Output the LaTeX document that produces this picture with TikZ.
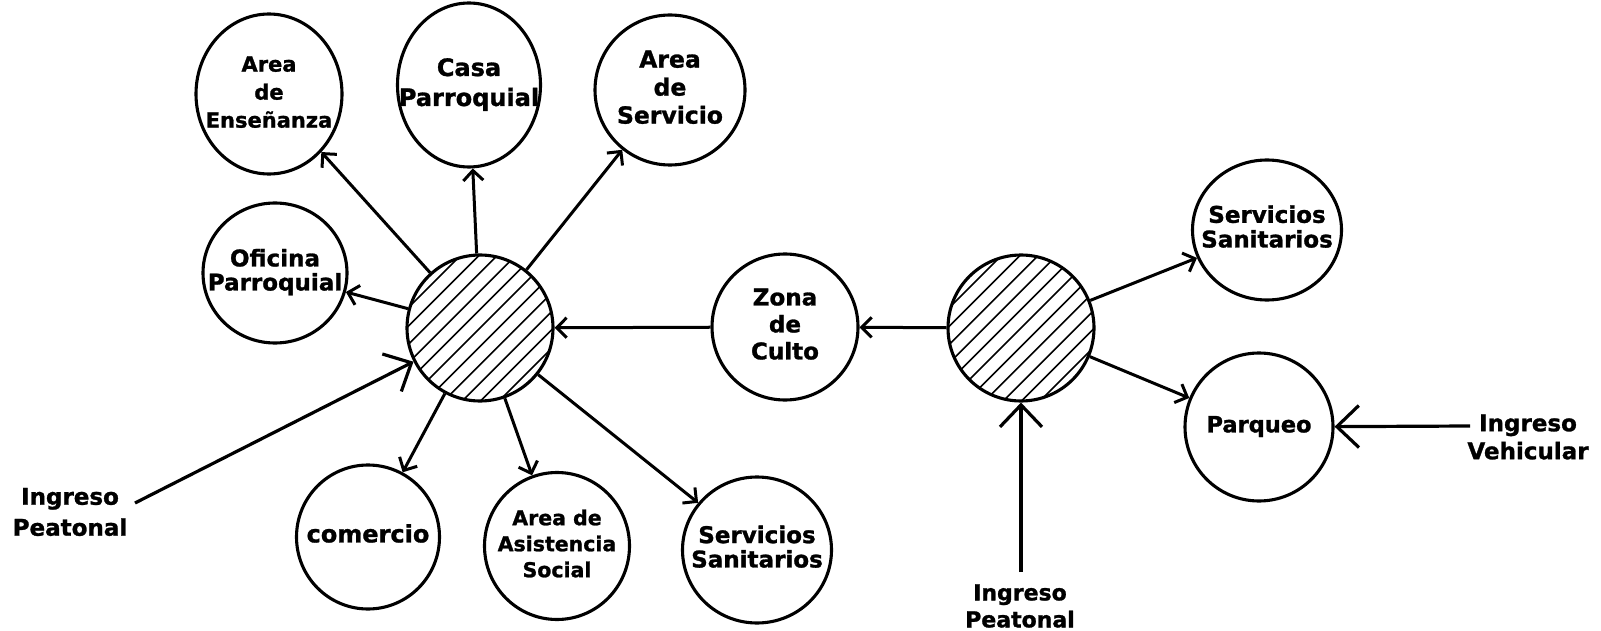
\documentclass[tikz,border=0pt]{standalone}
\usepackage{fontspec}
\setmainfont{DejaVu Sans}[BoldFeatures={FakeBold=1.2}]
\usepackage{tikz}
\usetikzlibrary{shapes.geometric,arrows.meta,calc}

\newcommand{\zlines}[1]{\makebox[0pt]{\begin{tabular}{@{}c@{}}#1\end{tabular}}}
\newcommand{\zfont}[2]{\bfseries\fontsize{#1}{#2}\selectfont}

\begin{document}
\begin{tikzpicture}[x=1pt,y=-1pt,>={Straight Barb[length=10pt,width=20pt]},
  zone/.style={ellipse,draw,line width=3.1pt,inner sep=0pt,minimum width=146pt,minimum height=146pt,font=\zfont{23}{27}},
  hub/.style={circle,draw,line width=3.1pt,minimum size=146pt,inner sep=0pt},
  flow/.style={->,line width=3pt},
  entry/.style={-{Straight Barb[length=22pt,width=42pt]},line width=3.2pt},
  gate/.style={align=center,inner sep=0pt,font=\zfont{23}{28}},
  hatch/.style={line width=1.6pt}]
\fill[white] (0,0) rectangle (1601,631);
\useasboundingbox (0,0) rectangle (1601,631);

% hatched hubs
\node[hub] (hubA) at (480,328) {};
\node[hub] (hubB) at (1021,328) {};
\foreach \h in {hubA,hubB}{
  \begin{scope}
    \clip (\h) circle (72pt);
    \foreach \k in {-6,...,6}
      \draw[hatch] ($(\h)+(\k*18.4-110,110)$) -- ++(220,-220);
  \end{scope}
}

% zones
\node[zone,minimum height=160pt,font=\zfont{21}{28}] (ense) at (269,94) {\zlines{Area\\de\\Enseñanza}};
\node[zone,minimum width=143pt,minimum height=164pt,font=\zfont{24}{30}] (casa) at (469,85) {\zlines{Casa\\Parroquial}};
\node[zone,minimum width=150pt,minimum height=150pt,font=\zfont{23.5}{28}] (serv) at (670,90) {\zlines{Area\\de\\Servicio}};
\node[zone,minimum width=144pt,minimum height=140pt,font=\zfont{23}{22}] (ofic) at (275,273) {\zlines{Oficina\\Parroquial}};
\node[zone] (culto) at (785,327) {\zlines{Zona\\de\\Culto}};
\node[zone,minimum width=143pt,minimum height=144pt,font=\zfont{24}{27}] (comer) at (368,537) {\zlines{comercio}};
\node[zone,minimum width=145pt,minimum height=147pt,font=\zfont{20.5}{26}] (asist) at (557,546) {\zlines{Area de\\Asistencia\\Social}};
\node[zone,minimum width=149pt,minimum height=146pt,font=\zfont{23}{23}] (sanA) at (757,550) {\zlines{Servicios\\Sanitarios}};
\node[zone,minimum width=149pt,minimum height=140pt,font=\zfont{23}{24}] (sanB) at (1267,230) {\zlines{Servicios\\Sanitarios}};
\node[zone,minimum width=148pt,minimum height=148pt,font=\zfont{22.5}{27}] (parq) at (1259,427) {\zlines{Parqueo}};

% entrances
\node[gate,font=\zfont{23}{31}] (peaA) at (70,512) {Ingreso\\Peatonal};
\node[gate,font=\zfont{22}{27}] (peaB) at (1020,606) {Ingreso\\Peatonal};
\node[gate] (veh) at (1528,437) {Ingreso\\Vehicular};
\coordinate (peaA-in) at (135,503);
\coordinate (peaB-in) at (1021,572);
\coordinate (veh-in) at (1470,426);

% connections
\draw[flow] (hubA) -- (ense);
\draw[flow] (hubA) -- (casa);
\draw[flow] (hubA) -- (serv);
\draw[flow] (hubA) -- (ofic);
\draw[flow] (hubA) -- (comer);
\draw[flow] (hubA) -- (asist);
\draw[flow] (hubA) -- (sanA);
\draw[flow] (culto) -- (hubA);
\draw[flow] (hubB) -- (culto);
\draw[flow] (hubB) -- (sanB);
\draw[flow] (hubB) -- (parq);
\draw[entry] (peaA-in) -- (hubA);
\draw[entry] (peaB-in) -- (hubB);
\draw[entry] (veh-in) -- (parq);
\end{tikzpicture}
\end{document}
